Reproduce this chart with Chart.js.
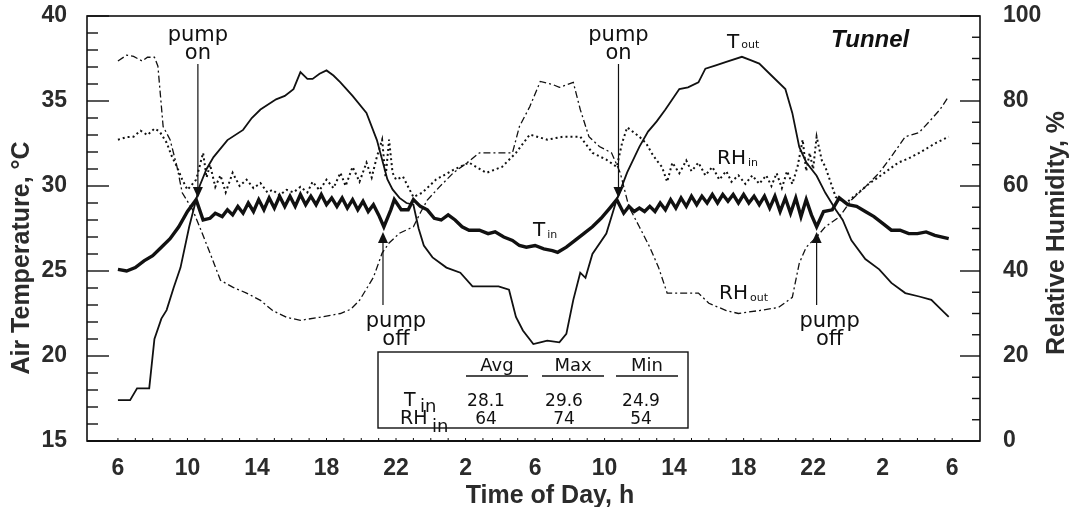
<!DOCTYPE html>
<html>
<head>
<meta charset="utf-8">
<script src="https://cdn.jsdelivr.net/npm/chart.js@4"></script>
<style>
  body { margin: 0; background: #fff; }
  canvas { display: block; }
</style>
</head>
<body>
<canvas id="grafico" width="1070" height="507"></canvas>
<script>
// === DADOS (horas desde as 6h do primeiro dia) ===
const hourTicks = [0, 4, 8, 12, 16, 20, 24, 28, 32, 36, 40, 44, 48];
const tickLabels = ['6', '10', '14', '18', '22', '2', '6', '10', '14', '18', '22', '2', '6'];

const tOutHours = [0,0.7,1.1,1.8,2.1,2.5,2.8,3.2,3.6,4.1,4.7,5.1,5.5,6.3,7.2,7.7,8.2,9.1,9.6,10.1,10.5,10.9,11.2,11.6,12.0,12.4,12.8,13.5,14.3,14.9,15.5,15.8,16.2,16.6,17.0,17.3,17.6,18.1,18.9,19.7,20.4,21.2,21.9,22.5,22.9,23.3,23.9,24.3,24.7,25.4,25.8,26.2,26.6,26.9,27.3,28.1,28.7,29.3,30.0,30.5,31.0,31.5,32.3,32.8,33.4,33.8,34.4,35.0,35.9,36.4,36.9,37.6,38.4,38.8,39.2,39.6,40.2,40.7,41.3,41.7,42.2,43.0,43.8,44.5,45.3,46.1,46.8,47.3,47.8];
const tOut = [17.4,17.4,18.1,18.1,21.0,22.2,22.7,24.0,25.2,27.6,30.0,31.0,31.7,32.7,33.3,34.0,34.5,35.1,35.3,35.7,36.7,36.3,36.3,36.6,36.8,36.5,36.1,35.3,34.3,32.7,30.4,29.8,29.3,29.0,28.9,27.5,26.5,25.8,25.2,24.9,24.1,24.1,24.1,23.9,22.3,21.5,20.7,20.8,20.9,20.8,21.3,23.3,24.9,24.6,26.0,27.2,29.2,30.8,32.3,33.2,33.8,34.5,35.7,35.8,36.1,36.9,37.1,37.3,37.6,37.4,37.2,36.5,35.7,34.3,32.3,31.4,30.6,29.6,28.6,28.0,26.8,25.7,25.1,24.3,23.7,23.5,23.3,22.8,22.3];

const tInHours = [0,0.5,1,1.5,2,2.5,3,3.5,4,4.5,4.9,5.3,5.6,6,6.3,6.6,6.9,7.2,7.5,7.8,8.1,8.4,8.7,9,9.3,9.6,9.9,10.2,10.5,10.8,11.1,11.4,11.7,12,12.3,12.6,12.9,13.2,13.5,13.8,14.1,14.4,14.7,15,15.3,15.7,15.9,16.3,16.7,17,17.4,17.8,18.2,18.6,19,19.4,19.8,20.2,20.8,21.3,21.7,22.2,22.7,23.1,23.5,24,24.5,25,25.3,25.8,26.3,26.8,27.3,27.8,28.3,28.7,29.1,29.4,29.7,30,30.3,30.6,30.9,31.2,31.5,31.8,32.1,32.4,32.7,33,33.3,33.6,33.9,34.2,34.5,34.8,35.1,35.4,35.7,36,36.3,36.6,36.9,37.2,37.5,37.8,38.1,38.4,38.7,39,39.3,39.6,39.9,40.2,40.6,41.1,41.5,42,42.5,43,43.5,44,44.5,45,45.5,46,46.5,47,47.8];
const tIn = [25.1,25.0,25.2,25.6,25.9,26.4,26.9,27.6,28.5,29.2,28.0,28.1,28.4,28.2,28.6,28.3,28.8,28.4,29.0,28.5,29.2,28.6,29.3,28.7,29.4,28.8,29.4,28.8,29.5,28.9,29.4,28.9,29.5,28.9,29.3,28.8,29.3,28.7,29.2,28.6,29.1,28.5,28.9,28.3,27.6,28.6,29.2,28.6,28.6,29.2,28.8,28.6,28.1,28.0,28.3,28.0,27.6,27.4,27.4,27.2,27.3,27.0,26.8,26.5,26.4,26.5,26.3,26.2,26.1,26.4,26.8,27.2,27.6,28.1,28.7,29.2,28.4,28.8,28.5,28.7,28.5,28.8,28.5,29.0,28.6,29.2,28.7,29.3,28.8,29.4,28.9,29.4,29.0,29.5,29.0,29.5,29.1,29.5,29.0,29.5,29.0,29.4,28.9,29.4,28.7,29.4,28.5,29.3,28.4,29.3,28.2,29.2,28.3,27.6,28.5,28.6,29.3,28.9,28.8,28.5,28.2,27.8,27.4,27.4,27.2,27.2,27.3,27.1,26.9];

const rhOutHours = [0,0.5,0.9,1.4,1.7,2.1,2.3,2.6,3.0,3.4,3.7,4.3,4.7,5.3,5.9,6.6,7.4,8.2,8.9,9.7,10.5,11.6,12.8,13.4,13.9,14.7,15.2,15.6,16.2,17.0,17.4,17.8,18.5,19.3,20.1,20.8,21.8,22.7,23.1,23.7,24.3,25.0,25.4,26.2,26.6,27.1,27.7,28.4,28.9,29.4,30.0,30.6,31.1,31.6,32.3,33.4,34.0,35.0,35.7,36.9,38.0,38.8,39.2,39.6,40.2,40.7,41.5,42.2,43.0,43.8,44.5,45.3,46.1,46.8,47.3,47.8];
const rhOut = [89.4,90.8,90.5,89.4,90.3,90.3,88.2,74.0,70.9,64.5,58.4,54.4,50.4,44.2,37.8,36.2,34.8,33.1,30.7,29.1,28.4,29.1,30.0,31.0,33.1,38.5,44.2,46.6,48.9,50.4,53.7,56.7,59.8,63.1,65.5,67.8,67.8,67.8,74.0,78.7,84.6,83.9,83.2,84.4,78.0,71.6,69.3,67.8,63.1,55.1,50.4,45.6,40.9,34.8,34.8,34.8,32.4,30.7,30.0,30.7,31.4,33.8,41.8,45.6,48.0,50.4,52.7,56.7,59.8,63.1,66.9,71.6,72.6,75.7,78.0,81.1];

const rhInHours = [0,0.5,0.9,1.3,1.7,2.1,2.4,2.8,3.1,3.4,3.7,4.0,4.5,4.9,5.1,5.3,5.6,5.9,6.2,6.6,7.0,7.4,7.8,8.2,8.6,8.9,9.3,9.7,10.1,10.5,10.9,11.2,11.6,12.0,12.4,12.8,13.1,13.5,13.9,14.3,14.6,14.9,15.2,15.4,15.6,15.8,16.0,16.4,17.0,17.5,18.3,19.3,20.2,21.2,22.1,22.9,23.7,24.7,25.6,26.6,27.3,28.1,28.7,29.0,29.3,30.0,30.4,30.7,31.0,31.3,31.6,31.9,32.3,32.7,33.0,33.4,33.8,34.2,34.6,35.0,35.3,35.7,36.1,36.5,36.9,37.3,37.6,37.9,38.2,38.5,38.8,39.1,39.4,39.6,39.8,40.0,40.2,40.5,40.7,41.3,41.9,42.6,43.2,43.8,44.4,44.9,45.5,46.1,46.6,47.1,47.8];
const rhIn = [70.9,71.5,71.6,73.0,72.0,73.5,72.8,70.2,67.0,64.5,61.5,59.1,61.5,67.8,62.0,65.0,59.8,62.5,58.5,63.1,60.0,61.5,59.5,60.7,58.5,59.1,57.8,59.1,58.5,59.8,58.5,61.0,59.0,61.5,59.5,63.1,60.0,64.5,61.0,65.5,62.0,66.9,70.9,62.0,70.9,63.1,61.5,62.2,57.4,58.4,61.5,63.8,65.5,63.1,64.5,67.8,72.1,70.9,71.6,71.6,67.8,66.2,64.5,70.0,73.8,71.6,70.0,67.8,66.0,64.5,61.0,65.5,63.0,66.0,63.5,65.5,62.5,64.5,61.5,63.5,61.0,62.5,60.5,62.5,60.5,62.5,60.0,63.0,59.5,63.5,60.5,64.5,70.9,63.5,67.8,64.0,71.6,66.0,64.5,57.4,56.0,58.4,60.5,62.2,64.0,65.5,66.5,67.8,69.0,70.2,71.6];

const pumpOnHours = [4.6, 28.8];
const pumpOffHours = [15.25, 40.2];

const statCols = ['Avg', 'Max', 'Min'];
const tInStats = ['28.1', '29.6', '24.9'];
const rhInStats = ['64', '74', '54'];

const pares = (hs, vs) => hs.map((h, i) => ({ x: h, y: vs[i] }));

const FONTE = "'Liberation Sans', Arial, sans-serif";
const FONTE_ANOT = "'DejaVu Sans', Verdana, sans-serif";
const TINTA = '#111';
const CINZA = '#2b2b2b';

// === DESENHOS EXTRAS (moldura, marcas, anotações, tabela) ===
function textoSub(ctx, base, sub, x, y, tam, subTam, desce) {
  ctx.textAlign = 'left';
  ctx.textBaseline = 'alphabetic';
  ctx.font = `${tam}px ${FONTE_ANOT}`;
  ctx.fillText(base, x, y);
  const w = ctx.measureText(base).width;
  ctx.font = `${subTam}px ${FONTE_ANOT}`;
  ctx.fillText(sub, x + w + 2, y + desce);
}

const decor = {
  id: 'decor',
  afterDraw(chart) {
    const { ctx, chartArea: a, scales } = chart;
    const x = scales.x, y = scales.y, y1 = scales.y1;
    ctx.save();
    ctx.strokeStyle = TINTA;
    ctx.fillStyle = TINTA;

    // moldura
    ctx.lineWidth = 1.6;
    ctx.strokeRect(a.left, a.top, a.right - a.left, a.bottom - a.top);
    ctx.lineWidth = 2.2;
    ctx.beginPath();
    ctx.moveTo(a.left, a.bottom); ctx.lineTo(a.right, a.bottom);
    ctx.stroke();

    // marcas do eixo esquerdo (dentro)
    ctx.lineWidth = 1.4;
    for (let t = 15; t <= 40; t++) {
      const py = y.getPixelForValue(t);
      const len = t % 5 === 0 ? 22 : 11;
      ctx.beginPath(); ctx.moveTo(a.left, py); ctx.lineTo(a.left + len, py); ctx.stroke();
    }
    // marcas do eixo direito (dentro)
    for (let r = 0; r <= 100; r += 5) {
      const py = y1.getPixelForValue(r);
      const len = r % 20 === 0 ? 20 : 8;
      ctx.beginPath(); ctx.moveTo(a.right, py); ctx.lineTo(a.right - len, py); ctx.stroke();
    }
    // marcas pequenas de hora no eixo x
    ctx.lineWidth = 1;
    for (let h = 0; h <= 48; h++) {
      const px = x.getPixelForValue(h);
      ctx.beginPath(); ctx.moveTo(px, a.bottom); ctx.lineTo(px, a.bottom - 3); ctx.stroke();
    }

    // títulos dos eixos
    ctx.fillStyle = CINZA;
    ctx.font = `bold 25px ${FONTE}`;
    ctx.textAlign = 'center';
    ctx.textBaseline = 'middle';
    ctx.save();
    ctx.translate(22, 258); ctx.rotate(-Math.PI / 2);
    ctx.fillText('Air Temperature, °C', 0, 0);
    ctx.restore();
    ctx.save();
    ctx.translate(1057, 233); ctx.rotate(-Math.PI / 2);
    ctx.fillText('Relative Humidity, %', 0, 0);
    ctx.restore();
    ctx.fillText('Time of Day, h', 550, 496);

    // bombas: setas e textos
    ctx.fillStyle = TINTA;
    ctx.lineWidth = 1.2;
    pumpOnHours.forEach(h => {
      const px = x.getPixelForValue(h);
      ctx.beginPath(); ctx.moveTo(px, 64); ctx.lineTo(px, 188); ctx.stroke();
      ctx.beginPath(); ctx.moveTo(px - 5, 187); ctx.lineTo(px + 5, 187); ctx.lineTo(px, 198); ctx.closePath(); ctx.fill();
      ctx.font = `21px ${FONTE_ANOT}`;
      ctx.textAlign = 'center'; ctx.textBaseline = 'alphabetic';
      ctx.fillText('pump', px, 41);
      ctx.fillText('on', px, 59);
    });
    pumpOffHours.forEach(h => {
      const px = x.getPixelForValue(h);
      ctx.beginPath(); ctx.moveTo(px, 240); ctx.lineTo(px, 305); ctx.stroke();
      ctx.beginPath(); ctx.moveTo(px - 5, 243); ctx.lineTo(px + 5, 243); ctx.lineTo(px, 232); ctx.closePath(); ctx.fill();
      ctx.font = `21px ${FONTE_ANOT}`;
      ctx.textAlign = 'center'; ctx.textBaseline = 'alphabetic';
      ctx.fillText('pump', px + 13, 327);
      ctx.fillText('off', px + 13, 345);
    });

    // rótulos das curvas
    textoSub(ctx, 'T', 'out', 727, 48, 20, 11, 0);
    textoSub(ctx, 'RH', 'in', 717, 164, 20, 11, 2);
    textoSub(ctx, 'T', 'in', 533, 236, 20, 11, 2);
    textoSub(ctx, 'RH', 'out', 719, 299, 20, 11, 2);
    ctx.font = `italic bold 24px ${FONTE}`;
    ctx.textAlign = 'left';
    ctx.fillText('Tunnel', 831, 47);

    // tabela de estatísticas
    const tb = { l: 378, t: 352, r: 688, b: 428 };
    ctx.fillStyle = '#fff';
    ctx.fillRect(tb.l, tb.t, tb.r - tb.l, tb.b - tb.t);
    ctx.fillStyle = TINTA;
    ctx.lineWidth = 1.4;
    ctx.strokeRect(tb.l, tb.t, tb.r - tb.l, tb.b - tb.t);
    const colX = [497, 573, 647];
    const valX = [486, 564, 641];
    ctx.font = `18px ${FONTE_ANOT}`;
    ctx.textAlign = 'center'; ctx.textBaseline = 'alphabetic';
    statCols.forEach((c, i) => {
      ctx.fillText(c, colX[i], 371);
      ctx.beginPath(); ctx.moveTo(colX[i] - 31, 376); ctx.lineTo(colX[i] + 31, 376); ctx.stroke();
    });
    ctx.font = `17px ${FONTE_ANOT}`;
    tInStats.forEach((v, i) => ctx.fillText(v, valX[i], 406));
    rhInStats.forEach((v, i) => ctx.fillText(v, valX[i], 424));
    ctx.font = `19px ${FONTE_ANOT}`;
    ctx.textAlign = 'left';
    ctx.fillText('T', 404, 406);
    ctx.fillText('RH', 400, 424);
    ctx.font = `18px ${FONTE_ANOT}`;
    ctx.fillText('in', 420, 412);
    ctx.fillText('in', 432, 432);
    ctx.restore();
  }
};

// === GRÁFICO ===
const ctx = document.getElementById('grafico').getContext('2d');
const fonteTicks = { family: FONTE, size: 23, weight: 'bold' };
const semPadding = s => { s.paddingTop = 0; s.paddingBottom = 0; s.paddingLeft = 0; s.paddingRight = 0; };

new Chart(ctx, {
  type: 'line',
  data: {
    datasets: [
      { label: 'T out', data: pares(tOutHours, tOut), yAxisID: 'y', borderColor: TINTA, borderWidth: 1.8 },
      { label: 'T in', data: pares(tInHours, tIn), yAxisID: 'y', borderColor: TINTA, borderWidth: 3.4 },
      { label: 'RH in', data: pares(rhInHours, rhIn), yAxisID: 'y1', borderColor: TINTA, borderWidth: 2, borderDash: [2, 3] },
      { label: 'RH out', data: pares(rhOutHours, rhOut), yAxisID: 'y1', borderColor: TINTA, borderWidth: 1.3, borderDash: [7, 3, 2, 3] }
    ]
  },
  options: {
    responsive: false,
    animation: false,
    layout: { padding: { top: 16, left: 0, right: 0, bottom: 0 } },
    elements: { point: { radius: 0 }, line: { tension: 0, fill: false } },
    plugins: { legend: { display: false }, tooltip: { enabled: false } },
    scales: {
      x: {
        type: 'linear',
        min: -1.78,
        max: 49.6,
        grid: { display: false },
        border: { display: false },
        afterBuildTicks: s => { s.ticks = hourTicks.map(v => ({ value: v })); },
        afterFit: s => { s.height = 66; semPadding(s); },
        ticks: {
          autoSkip: false,
          maxRotation: 0,
          padding: 6,
          color: CINZA,
          font: fonteTicks,
          callback: (v, i) => tickLabels[i]
        }
      },
      y: {
        position: 'left',
        min: 15,
        max: 40,
        grid: { display: false },
        border: { display: false },
        afterFit: s => { s.width = 87; semPadding(s); },
        ticks: { stepSize: 5, padding: 12, color: CINZA, font: fonteTicks }
      },
      y1: {
        position: 'right',
        min: 0,
        max: 100,
        grid: { display: false },
        border: { display: false },
        afterFit: s => { s.width = 90; semPadding(s); },
        ticks: { stepSize: 20, padding: 15, color: CINZA, font: fonteTicks }
      }
    }
  },
  plugins: [decor]
});
</script>
</body>
</html>
